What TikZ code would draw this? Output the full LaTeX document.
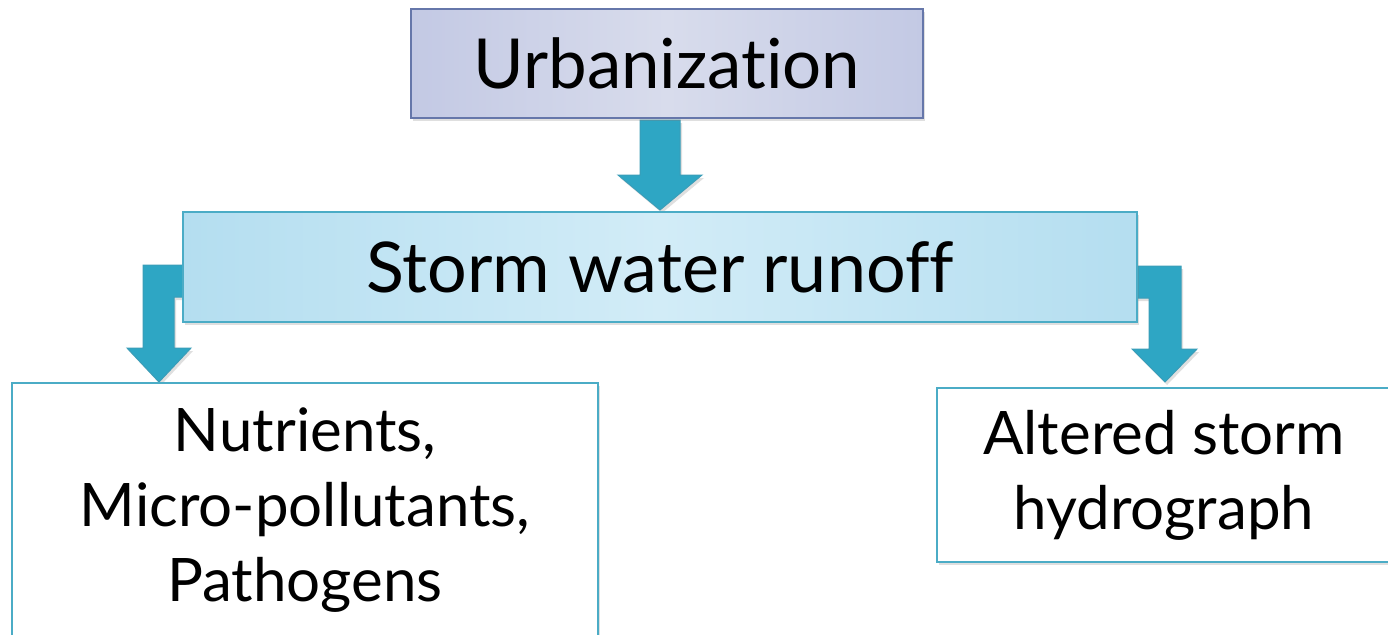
\documentclass[tikz,border=0pt]{standalone}
\usepackage{fontspec}
\setmainfont{Lato}[Ligatures=NoCommon]
\usetikzlibrary{calc,shadows}

\definecolor{urbfill}{HTML}{C3C9E4}
\definecolor{urbmid}{HTML}{D8DCEC}
\definecolor{urbline}{HTML}{6677AA}
\definecolor{stormfill}{HTML}{B4DEF0}
\definecolor{stormmid}{HTML}{D2ECF7}
\definecolor{tealline}{HTML}{4BACC6}
\definecolor{arrowfill}{HTML}{2EA6C4}
\definecolor{arrowline}{HTML}{3A9DB8}

\tikzset{
  boxbase/.style={rectangle, line width=2pt, inner sep=0pt, align=center,
    drop shadow={opacity=0.25, shadow xshift=2pt, shadow yshift=-3pt}},
  topbox/.style={boxbase, draw=urbline, left color=urbfill, right color=urbfill, middle color=urbmid,
    font=\fontsize{69}{75}\selectfont},
  midbox/.style={boxbase, draw=tealline, left color=stormfill, right color=stormfill, middle color=stormmid,
    font=\fontsize{70}{75}\selectfont},
  outbox/.style={boxbase, draw=tealline, fill=white, font=\fontsize{60}{75}\selectfont},
  blockarrow/.style={fill=arrowfill, draw=arrowline, line width=1pt, line join=miter,
    drop shadow={opacity=0.25, shadow xshift=2pt, shadow yshift=-3pt}}
}

\begin{document}
\begin{tikzpicture}[x=1pt,y=-1pt]
\clip (0,0) rectangle (1388,634);
\fill[white] (0,0) rectangle (1388,634);

% connector anchors (tips and stems of the block arrows)
\coordinate (c1) at (660,120);
\coordinate (c1tip) at (660,210);
\coordinate (lbar) at (200,265);
\coordinate (ltip) at (159,382);
\coordinate (rbar) at (1125,266);
\coordinate (rtip) at (1165,382);

% block arrows, drawn beneath the boxes
\draw[blockarrow] ($(c1)+(-20,0)$) -- ($(c1)+(20,0)$) -- ($(c1tip)+(20,-35)$) -- ($(c1tip)+(42,-35)$)
  -- (c1tip) -- ($(c1tip)+(-42,-35)$) -- ($(c1tip)+(-20,-35)$) -- cycle;
\draw[blockarrow] (lbar) -- ($(ltip)+(-16,-117)$) -- ($(ltip)+(-16,-34)$) -- ($(ltip)+(-32,-34)$)
  -- (ltip) -- ($(ltip)+(32,-34)$) -- ($(ltip)+(15,-34)$) -- ($(ltip)+(15,-85)$) -- ($(lbar)+(0,32)$) -- cycle;
\draw[blockarrow] (rbar) -- ($(rtip)+(16,-116)$) -- ($(rtip)+(16,-33)$) -- ($(rtip)+(32,-33)$)
  -- (rtip) -- ($(rtip)+(-33,-33)$) -- ($(rtip)+(-16,-33)$) -- ($(rtip)+(-16,-84)$) -- ($(rbar)+(0,32)$) -- cycle;

% boxes
\node[topbox, minimum width=512pt, minimum height=109pt] (urb) at (667,63.5) {Urbanization};
\node[midbox, minimum width=954pt, minimum height=110pt] (storm) at (660,267) {Storm water runoff};
\node[outbox, minimum width=586pt, minimum height=254pt] (poll) at (305,510)
  {Nutrients,\\ Micro-pollutants,\\ Pathogens};
\node[outbox, minimum width=454pt, minimum height=174pt] (hydro) at (1164,475)
  {Altered storm\\ hydrograph};
\end{tikzpicture}
\end{document}
